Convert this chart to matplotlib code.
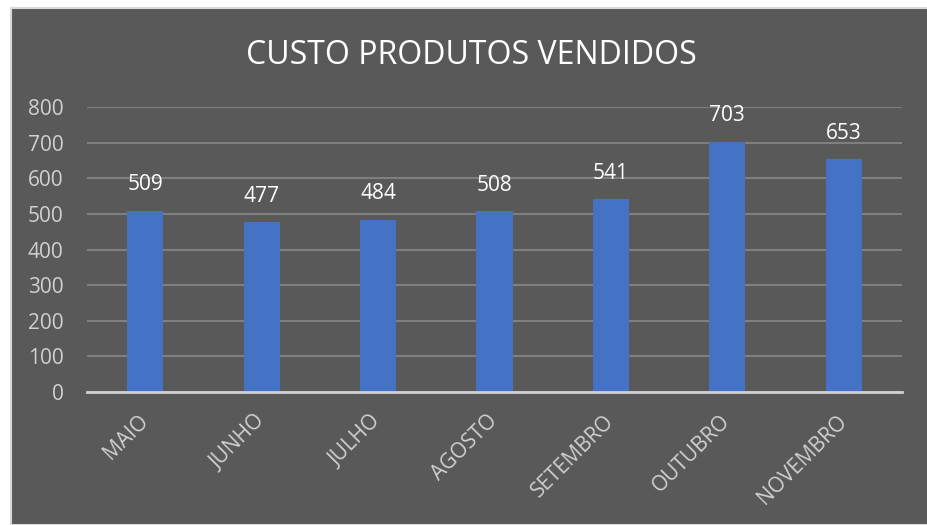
import matplotlib.pyplot as plt
from matplotlib.patches import Rectangle

meses = ["MAIO", "JUNHO", "JULHO", "AGOSTO", "SETEMBRO", "OUTUBRO", "NOVEMBRO"]
custos = [509, 477, 484, 508, 541, 703, 653]
yticks = [0, 100, 200, 300, 400, 500, 600, 700, 800]

plt.rcParams["font.family"] = ["Open Sans", "DejaVu Sans"]

fig = plt.figure(figsize=(9.27, 5.25), dpi=100)
fig.patch.set_facecolor("white")

# dark chart background with light border
fig.patches.append(Rectangle((11 / 927, 0), 1, 1 - 8 / 525, transform=fig.transFigure,
                             facecolor="#595959", edgecolor="#d9d9d9", linewidth=1.5, zorder=-10))

ax = fig.add_axes([87 / 927, 1 - 392 / 525, (902 - 87) / 927, (392 - 107) / 525])
ax.set_facecolor("none")
ax.set_zorder(1)

x = range(len(meses))
bars = ax.bar(x, custos, width=0.31, color="#4472C4", zorder=3)

for bar, v in zip(bars, custos):
    ax.annotate(str(v), (bar.get_x() + bar.get_width() / 2, v), xytext=(0, 11),
                textcoords="offset points", ha="center", va="bottom",
                color="white", fontsize=15)

ax.set_xlim(-0.5, len(meses) - 0.5)
ax.set_ylim(0, 800)
ax.set_yticks(yticks)
ax.set_yticklabels([str(t) for t in yticks], color="#d0d0d0", fontsize=15)
ax.set_xticks(list(x))
ax.set_xticklabels(meses, rotation=45, ha="right", va="center", rotation_mode="anchor",
                   color="#d0d0d0", fontsize=15)
ax.tick_params(axis="both", length=0)
ax.tick_params(axis="y", pad=17)
ax.tick_params(axis="x", pad=19)

ax.grid(axis="y", color="#7f7f7f", linewidth=1.5, zorder=0)
for side in ["top", "right", "left"]:
    ax.spines[side].set_visible(False)
ax.spines["bottom"].set_color("#d0d0d0")
ax.spines["bottom"].set_linewidth(2)
ax.spines["bottom"].set_zorder(4)

fig.text(471 / 927, 1 - 55 / 525, "CUSTO PRODUTOS VENDIDOS", ha="center", va="center",
         color="white", fontsize=23)

fig.savefig("out.png", dpi=100)
